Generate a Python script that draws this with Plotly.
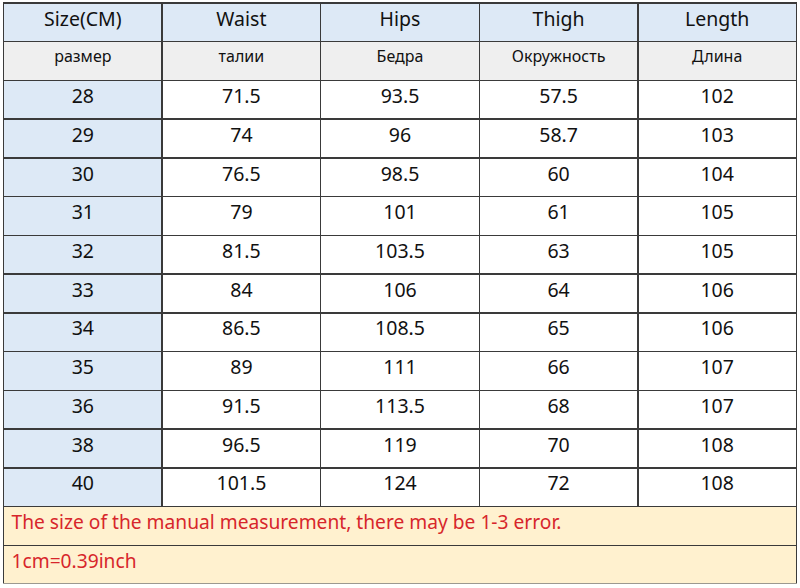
import plotly.graph_objects as go

# size chart data (cm)
columns = ["Size(CM)", "Waist", "Hips", "Thigh", "Length"]
columns_ru = ["размер", "талии", "Бедра", "Окружность", "Длина"]
sizes = ["28", "29", "30", "31", "32", "33", "34", "35", "36", "38", "40"]
waist = ["71.5", "74", "76.5", "79", "81.5", "84", "86.5", "89", "91.5", "96.5", "101.5"]
hips = ["93.5", "96", "98.5", "101", "103.5", "106", "108.5", "111", "113.5", "119", "124"]
thigh = ["57.5", "58.7", "60", "61", "63", "64", "65", "66", "68", "70", "72"]
length = ["102", "103", "104", "105", "105", "106", "106", "107", "107", "108", "108"]
notes = ["The size of the manual measurement, there may be 1-3 error.", "1cm=0.39inch"]

BLUE = "#dde9f6"
GRAY = "#efefef"
WHITE = "#ffffff"
PEACH = "#fff1cf"
LINE = "#3a3a3a"
FONT = "Noto Sans"
TXT = "#111111"
RED = "#d7262b"

W, H = 800, 588
top, bottom = 3, 584
row_h = (bottom - top) / 15
xdom = [3.5 / W, 797 / W]


def ydom(r0, r1):
    # rows r0..r1 (from top) -> paper domain
    return [1 - (top + row_h * r1) / H, 1 - (top + row_h * r0) / H]


line = dict(color=LINE, width=1.5)
data_cols = [sizes, waist, hips, thigh, length]
col_fill = [BLUE, WHITE, WHITE, WHITE, WHITE]

fig = go.Figure()

# header: english names + russian names
fig.add_trace(go.Table(
    domain=dict(x=xdom, y=ydom(0, 2)),
    header=dict(values=columns, fill_color=BLUE, line=line, align="center",
                height=row_h, font=dict(family=FONT, size=19.5, color=TXT)),
    cells=dict(values=[[c] for c in columns_ru], fill_color=GRAY, line=line,
               align="center", height=row_h,
               font=dict(family=FONT, size=16, color=TXT)),
))

# size rows (first row sits in the header slot so no empty header shows)
fig.add_trace(go.Table(
    domain=dict(x=xdom, y=ydom(2, 13)),
    header=dict(values=[c[0] for c in data_cols], fill_color=col_fill,
                line=line, align="center", height=row_h,
                font=dict(family=FONT, size=19.5, color=TXT)),
    cells=dict(values=[c[1:] for c in data_cols], fill_color=col_fill,
               line=line, align="center", height=row_h,
               font=dict(family=FONT, size=19.5, color=TXT)),
))

# notes
fig.add_trace(go.Table(
    domain=dict(x=xdom, y=ydom(13, 15)),
    header=dict(values=[notes[0]], fill_color=PEACH, line=line, align="left",
                height=row_h, font=dict(family=FONT, size=19.2, color=RED)),
    cells=dict(values=[[notes[1]]], fill_color=PEACH, line=line, align="left",
               height=row_h, font=dict(family=FONT, size=19.2, color=RED)),
))

fig.update_layout(
    width=W, height=H,
    margin=dict(l=0, r=0, t=0, b=0),
    paper_bgcolor="white",
)

fig.write_html("out.html", config={"displayModeBar": False},
               post_script="document.body.style.margin='0';")
